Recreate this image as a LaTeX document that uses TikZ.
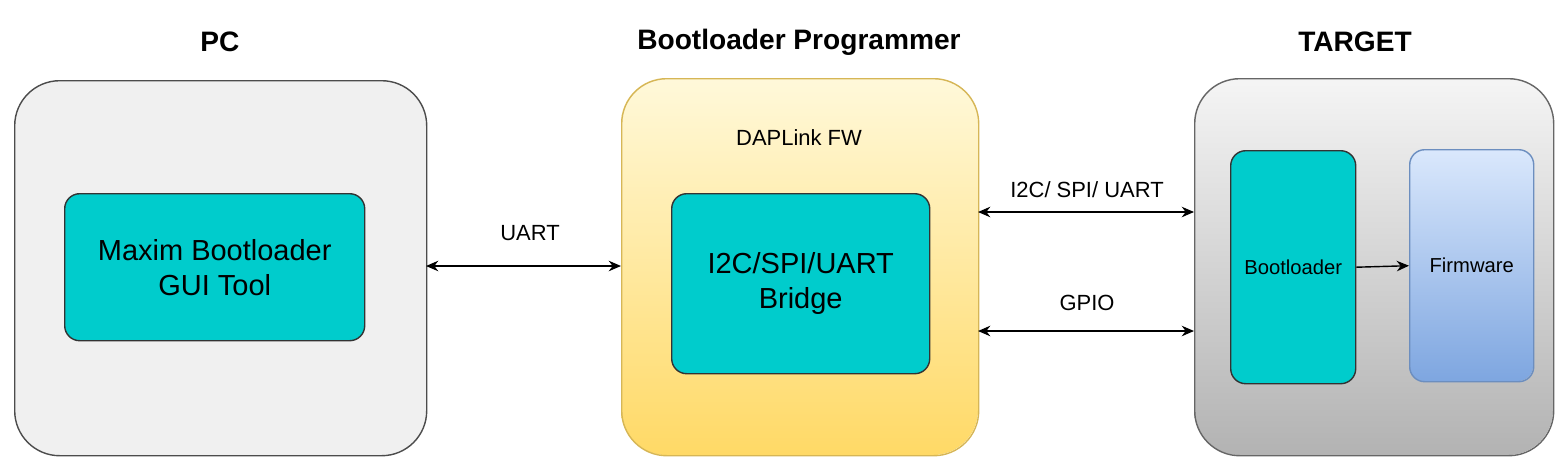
\documentclass[tikz,border=0pt]{standalone}
\usepackage{fontspec}
\setmainfont{Liberation Sans}
\usetikzlibrary{arrows.meta}
\begin{document}
\begin{tikzpicture}[x=0.02cm,y=-0.02cm,
  outer/.style={draw, line width=0.8pt, rounded corners=0.9cm},
  teal/.style={draw=black!80, fill=tealc, line width=0.8pt, rounded corners=0.3cm},
  title/.style={font=\fontsize{16}{18}\selectfont\bfseries},
  lbl/.style={font=\fontsize{12.5}{14}\selectfont},
  big/.style={font=\fontsize{16.5}{20}\selectfont, align=center},
  arr/.style={{Stealth[length=7pt,width=6pt]}-{Stealth[length=7pt,width=6pt]}, line width=0.8pt}]
\definecolor{tealc}{HTML}{00CCCC}
\useasboundingbox (0,0) rectangle (1568,474);
% PC
\node[outer, draw=black!70, fill=black!6, minimum width=412*0.02cm, minimum height=375*0.02cm, anchor=north west] (pc) at (14,80) {};
\node[teal, minimum width=300*0.02cm, minimum height=147*0.02cm, anchor=north west] (gui) at (64,193) {};
\node[big] at (gui.center) {Maxim Bootloader\\GUI Tool};
\node[title] (tpc) at (220,42) {PC};
% Programmer
\shade[top color=yellow!10!white!95!orange, bottom color={rgb,255:red,255;green,217;blue,102}, rounded corners=0.9cm] (621,78) rectangle (978,455);
\node[outer, draw={rgb,255:red,214;green,182;blue,86}, minimum width=357*0.02cm, minimum height=377*0.02cm, anchor=north west] (prog) at (621,78) {};
\node[teal, minimum width=258*0.02cm, minimum height=180*0.02cm, anchor=north west] (bridge) at (671,193) {};
\node[big] at (bridge.center) {I2C/SPI/UART\\Bridge};
\node[lbl] (dap) at (799,138) {DAPLink FW};
\node[title] (tprog) at (799,42) {Bootloader Programmer};
% Target
\shade[top color=black!4, bottom color=black!30, rounded corners=0.9cm] (1194,78) rectangle (1553,455);
\node[outer, draw=black!60, minimum width=359*0.02cm, minimum height=377*0.02cm, anchor=north west] (tgt) at (1194,78) {};
\node[teal, minimum width=125*0.02cm, minimum height=233*0.02cm, anchor=north west] (bl) at (1230,150) {};
\node[font=\fontsize{11.5}{13}\selectfont] at (bl.center) {Bootloader};
\shade[top color={rgb,255:red,218;green,232;blue,252}, bottom color={rgb,255:red,126;green,166;blue,224}, rounded corners=0.3cm] (1409,149) rectangle (1533,381);
\node[draw={rgb,255:red,108;green,142;blue,191}, line width=0.8pt, rounded corners=0.3cm, minimum width=124*0.02cm, minimum height=232*0.02cm, anchor=north west] (fw) at (1409,149) {};
\node[font=\fontsize{11.5}{13}\selectfont] at (fw.center) {Firmware};
\node[title] (ttgt) at (1355,42) {TARGET};
% arrows
\coordinate (a1) at (426,266); \coordinate (a2) at (621,266);
\draw[arr] (a1) -- (a2);
\node[lbl] (uart) at (530,233) {UART};
\coordinate (b1) at (978,212); \coordinate (b2) at (1194,212);
\draw[arr] (b1) -- (b2);
\node[lbl] (i2c) at (1087,190) {I2C/ SPI/ UART};
\coordinate (c1) at (978,331); \coordinate (c2) at (1194,331);
\draw[arr] (c1) -- (c2);
\node[lbl] (gpio) at (1087,303) {GPIO};
\draw[-{Stealth[length=7pt,width=6pt]}, line width=0.8pt] (bl.east) -- (fw.west);
\end{tikzpicture}
\end{document}
